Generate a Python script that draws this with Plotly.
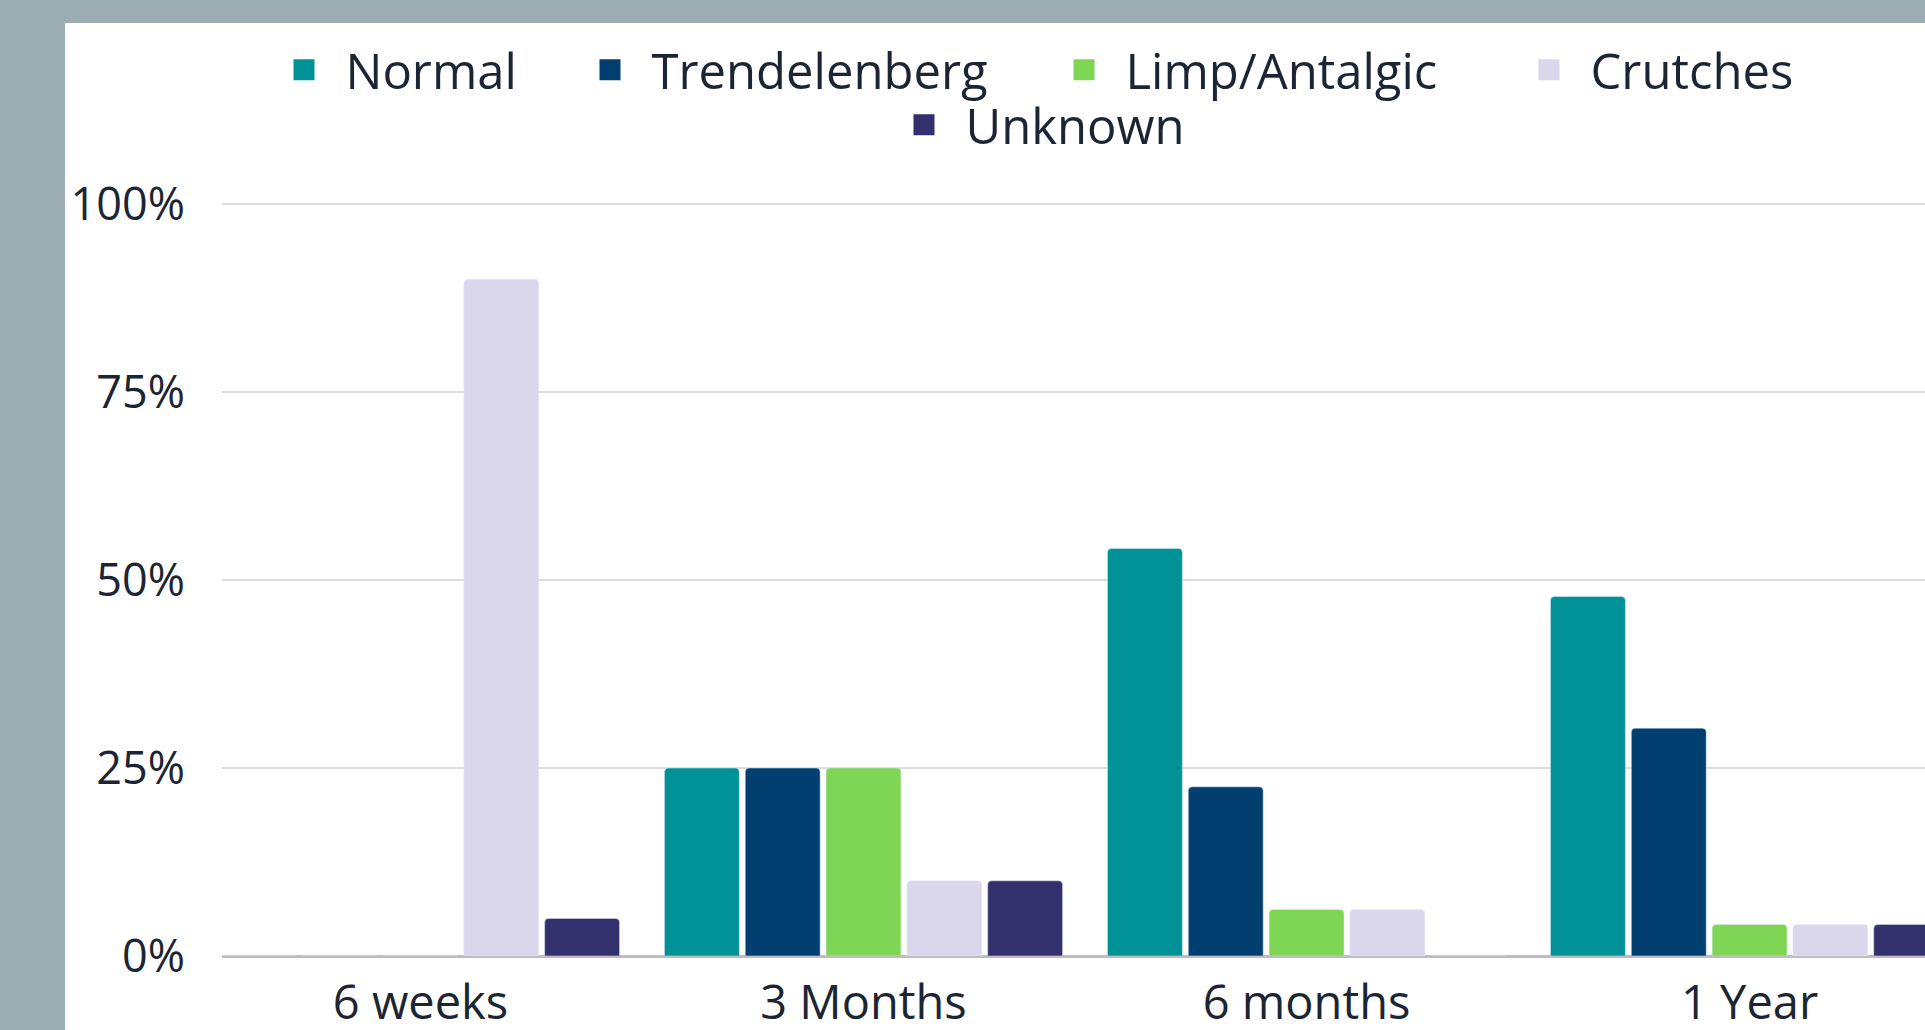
import plotly.graph_objects as go

categories = ["6 weeks", "3 Months", "6 months", "1 Year"]
series_names = ["Normal", "Trendelenberg", "Limp/Antalgic", "Crutches", "Unknown"]
normal = [0, 25, 54.2, 47.8]
trendelenberg = [0, 25, 22.5, 30.3]
limp = [0, 25, 6.2, 4.2]
crutches = [90, 10, 6.2, 4.2]
unknown = [5, 10, 0, 4.2]
y_ticks = [0, 25, 50, 75, 100]
y_tick_labels = ["0%", "25%", "50%", "75%", "100%"]

values = [normal, trendelenberg, limp, crutches, unknown]
colors = ["#009297", "#003f70", "#7fd654", "#dad7ed", "#33316d"]

W, H = 1925, 1030
FONT = "Open Sans"
TXT = "#1b2533"

fig = go.Figure()
for name, vals, col in zip(series_names, values, colors):
    fig.add_trace(go.Bar(x=categories, y=vals, name=name, marker_color=col,
                         showlegend=False, hoverinfo="x+y+name"))

# legend entries (one legend per entry to place them like the reference)
legend_pos = [(304, 70), (610, 70), (1084, 70), (1549, 70), (924, 125)]
legend_keys = ["legend", "legend2", "legend3", "legend4", "legend5"]
for name, col, key in zip(series_names, colors, legend_keys):
    fig.add_trace(go.Scatter(x=[None], y=[None], mode="markers", name=name,
                             marker=dict(symbol="square", size=16, color=col,
                                         line=dict(color=col, width=5)),
                             legend=key, showlegend=True))

ITEMW = 73
legend_layout = {}
for key, (cx, cy) in zip(legend_keys, legend_pos):
    legend_layout[key] = dict(
        x=(cx - 5 - ITEMW / 2) / W, y=1 - cy / H, xanchor="left", yanchor="middle",
        orientation="h", bgcolor="rgba(0,0,0,0)", borderwidth=0,
        itemwidth=ITEMW, itemsizing="trace",
        font=dict(family=FONT, size=49, color=TXT),
    )

fig.update_layout(
    width=W, height=H, autosize=False,
    margin=dict(l=0, r=0, t=0, b=0, pad=0, autoexpand=False),
    paper_bgcolor="#9badb2",
    plot_bgcolor="white",
    barmode="group", bargap=0.088, bargroupgap=0.073, barcornerradius=4,
    font=dict(family=FONT, size=46, color=TXT),
    shapes=[dict(type="rect", xref="paper", yref="paper",
                 x0=65 / W, x1=1.0, y0=0.0, y1=1 - 23 / H,
                 fillcolor="white", line_width=0, layer="below")],
    **legend_layout,
)

fig.update_xaxes(
    domain=[222 / W, 1.0], range=[-0.448, 3.396], automargin=False,
    showgrid=False, showline=False, ticks="",
    tickfont=dict(family=FONT, size=47, color=TXT),
    ticklabelstandoff=15, fixedrange=True,
)
fig.update_yaxes(
    domain=[74 / H, 1 - 166.4 / H], range=[0, 105], automargin=False,
    tickvals=y_ticks, ticktext=y_tick_labels,
    showgrid=True, gridcolor="#dcdcdf", gridwidth=2,
    zeroline=True, zerolinecolor="#bdbdc0", zerolinewidth=3,
    ticks="", ticklabelstandoff=36,
    tickfont=dict(family=FONT, size=45, color=TXT), fixedrange=True,
)

fig.write_html("out.html", config={"displayModeBar": False},
               post_script="document.body.style.margin='0';document.body.style.overflow='hidden';")
